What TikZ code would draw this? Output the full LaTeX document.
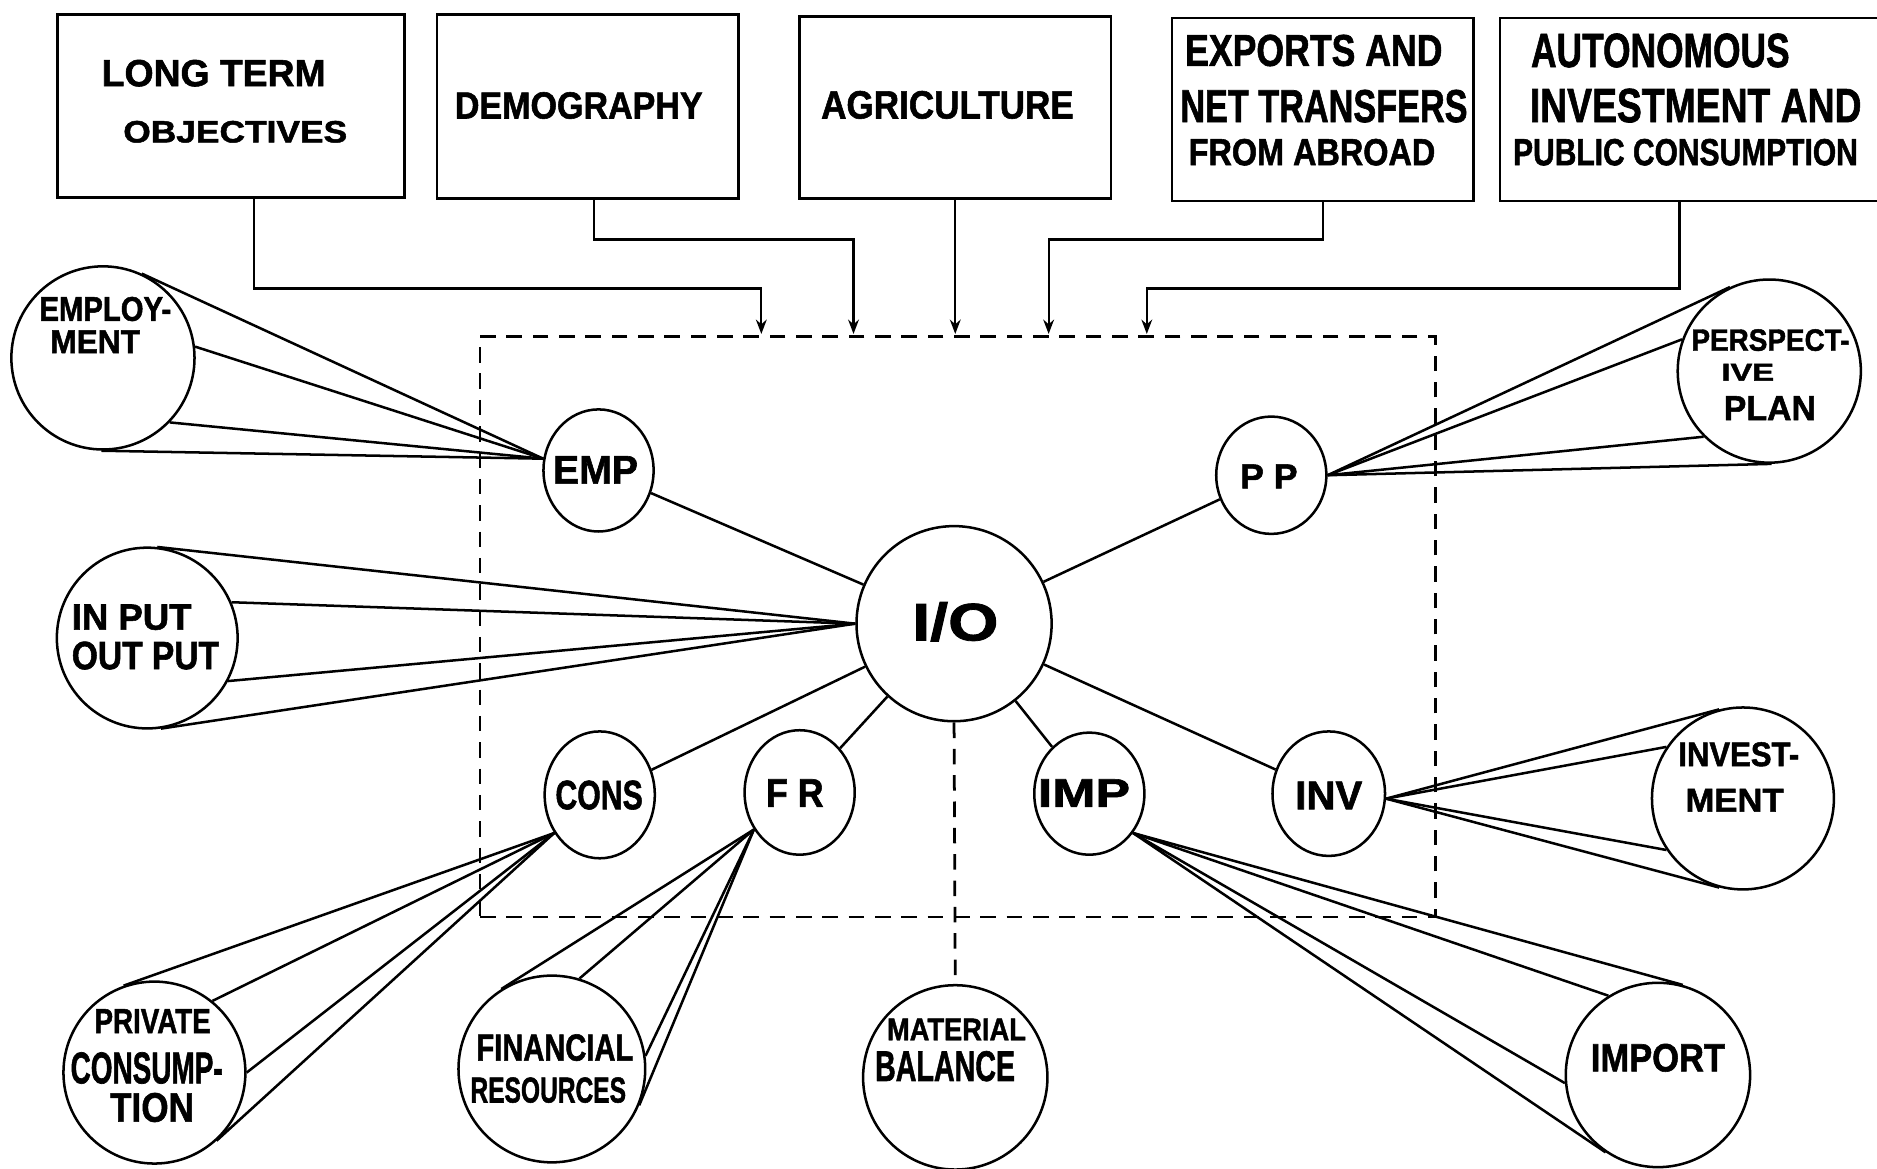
\documentclass[tikz,border=0pt]{standalone}
\usepackage{fontspec}
\setmainfont{Liberation Sans}[BoldFeatures={FakeBold=1.5}]
\usepackage{graphicx}
\usetikzlibrary{calc,shapes.geometric,arrows.meta}
\newcommand{\tx}[3]{\resizebox{#1pt}{#2pt}{\bfseries #3}}
\newcommand{\mycone}[4]{%
  \draw[ln] (#1) -- (tangent cs:node=#2,point={(#1)},solution=1);
  \draw[ln] (#1) -- (tangent cs:node=#2,point={(#1)},solution=2);
  \draw[ln] (#1) -- (#2.#3);
  \draw[ln] (#1) -- (#2.#4);}
\begin{document}
\begin{tikzpicture}[x=1pt,y=-1pt,
  ln/.style={line width=2.1pt},
  boxnode/.style={draw,line width=2.2pt,rectangle,inner sep=0pt},
  smallc/.style={draw,ellipse,line width=2.1pt,minimum width=92pt,minimum height=102pt,inner sep=0pt},
  bigc/.style={draw,circle,line width=2.1pt,minimum size=153pt,inner sep=0pt},
  ioc/.style={draw,circle,line width=2.1pt,minimum size=163pt,inner sep=0pt},
  txt/.style={anchor=base west,inner sep=0pt,outer sep=0pt},
  dsh/.style={line width=2.3pt,dash pattern=on 13pt off 9pt},
  arr/.style={line width=1.9pt,-{Stealth[length=12pt,width=9pt]}}
]
\fill[white] (0,0) rectangle (1568,976);
\useasboundingbox (0,0) rectangle (1568,976);

% top boxes
\node[boxnode,minimum width=290pt,minimum height=153pt] (b1) at (193,88.5) {};
\node[boxnode,minimum width=252pt,minimum height=154pt] (b2) at (491,89) {};
\node[boxnode,minimum width=260pt,minimum height=152pt] (b3) at (798,90) {};
\node[boxnode,minimum width=252pt,minimum height=153pt] (b4) at (1105,91.5) {};
\node[boxnode,minimum width=330pt,minimum height=153pt] (b5) at (1418,91.5) {};

\node[txt] (t1a) at (85,72) {\tx{187}{22}{LONG TERM}};
\node[txt] (t1b) at (103,119) {\tx{187}{18}{OBJECTIVES}};
\node[txt] (t2) at (380,99) {\tx{207}{22}{DEMOGRAPHY}};
\node[txt] (t3) at (686,99) {\tx{211}{23}{AGRICULTURE}};
\node[txt] (t4a) at (990,55) {\tx{215}{26}{EXPORTS AND}};
\node[txt] (t4b) at (986,102) {\tx{240}{27}{NET TRANSFERS}};
\node[txt] (t4c) at (993,138) {\tx{206}{22}{FROM ABROAD}};
\node[txt] (t5a) at (1279,56) {\tx{216}{28}{AUTONOMOUS}};
\node[txt] (t5b) at (1278,102) {\tx{277}{28}{INVESTMENT AND}};
\node[txt] (t5c) at (1264,138) {\tx{288}{22}{PUBLIC CONSUMPTION}};

% dashed frame
\node[draw,dsh,minimum width=798pt,minimum height=485pt,inner sep=0pt] (frame) at (800,523.5) {};
\coordinate (in1) at (636,279);
\coordinate (in2) at (713,279);
\coordinate (in3) at (798,279);
\coordinate (in4) at (876,279);
\coordinate (in5) at (958,279);

\draw[arr] ([xshift=19pt]b1.south) |- ([yshift=38pt]in1) -- (in1);
\draw[arr] ([xshift=5pt]b2.south) |- ([yshift=79pt]in2) -- (in2);
\draw[arr] (b3.south) -- (in3);
\draw[arr] (b4.south) |- ([yshift=79pt]in4) -- (in4);
\draw[arr] ([xshift=-15pt]b5.south) |- ([yshift=38pt]in5) -- (in5);

% central and small circles
\node[ioc] (io) at (797,521) {};
\node[smallc] (emp) at (500,393) {};
\node[smallc,minimum height=98pt] (pp) at (1062,397) {};
\node[smallc,minimum height=106pt] (cons) at (501,664) {};
\node[smallc,minimum height=104pt] (fr) at (668,662) {};
\node[smallc] (imp) at (910,663) {};
\node[smallc,minimum width=94pt,minimum height=104pt] (inv) at (1110,663) {};

\node[txt] (lio) at (762,535) {\tx{72}{32}{I/O}};
\node[txt] (lemp) at (462,404) {\tx{71}{23}{EMP}};
\node[txt] (lpp) at (1036,408) {\tx{48}{20}{P P}};
\node[txt] (lcons) at (464,676) {\tx{73}{24}{CONS}};
\node[txt] (lfr) at (640,674) {\tx{48}{23}{F R}};
\node[txt] (limp) at (867,674) {\tx{77}{23}{IMP}};
\node[txt] (linv) at (1082,676) {\tx{56}{23}{INV}};

\draw[ln] (emp) -- (io);
\draw[ln] (pp) -- (io);
\draw[ln] (cons) -- (io);
\draw[ln] (fr) -- (io);
\draw[ln] (imp) -- (io);
\draw[ln] (inv) -- (io);

% big circles
\node[bigc] (cemp) at (86,299) {};
\node[bigc,minimum size=151pt] (cio) at (123,533) {};
\node[bigc] (cpp) at (1478,310) {};
\node[bigc,minimum size=152pt] (cinv) at (1456,667) {};
\node[bigc,minimum size=154pt] (cimp) at (1385,898) {};
\node[bigc,minimum size=152pt] (cpc) at (129,896) {};
\node[bigc,minimum size=156pt] (cfr) at (461,893) {};
\node[bigc,minimum size=154pt] (cmb) at (798,900) {};

\node[txt] (le1) at (33,268) {\tx{110}{20}{EMPLOY-}};
\node[txt] (le2) at (42,295) {\tx{75}{19}{MENT}};
\node[txt] (li1) at (60,526) {\tx{100}{21}{IN PUT}};
\node[txt] (li2) at (60,559) {\tx{123}{23}{OUT PUT}};
\node[txt] (lp1) at (1413,293) {\tx{132}{18}{PERSPECT-}};
\node[txt] (lp2) at (1438,318) {\tx{44}{14}{IVE}};
\node[txt] (lp3) at (1440,351) {\tx{77}{20}{PLAN}};
\node[txt] (lv1) at (1402,640) {\tx{101}{20}{INVEST-}};
\node[txt] (lv2) at (1408,678) {\tx{82}{19}{MENT}};
\node[txt] (lm1) at (1329,895) {\tx{112}{23}{IMPORT}};
\node[txt] (lc1) at (79,863) {\tx{97}{20}{PRIVATE}};
\node[txt] (lc2) at (59,905) {\tx{127}{26}{CONSUMP-}};
\node[txt] (lc3) at (92,937) {\tx{70}{24}{TION}};
\node[txt] (lf1) at (398,886) {\tx{131}{22}{FINANCIAL}};
\node[txt] (lf2) at (393,921) {\tx{130}{21}{RESOURCES}};
\node[txt] (lb1) at (741,869) {\tx{116}{18}{MATERIAL}};
\node[txt] (lb2) at (731,903) {\tx{117}{25}{BALANCE}};

% apexes
\coordinate (a-emp) at (emp.168);
\coordinate (a-io) at (io.180);
\coordinate (a-pp) at (pp.0);
\coordinate (a-inv) at (inv.355);
\coordinate (a-imp) at (imp.318);
\coordinate (a-cons) at (cons.220);
\coordinate (a-fr) at (fr.219);

\mycone{a-emp}{cemp}{7}{316}
\mycone{a-io}{cio}{23}{332}
\mycone{a-pp}{cpp}{160}{225}
\mycone{a-inv}{cinv}{146}{214}
\mycone{a-imp}{cimp}{122}{185}
\mycone{a-cons}{cpc}{51}{0}
\mycone{a-fr}{cfr}{73}{8}

\draw[dsh] (io.south) -- (cmb.north);
\end{tikzpicture}
\end{document}
